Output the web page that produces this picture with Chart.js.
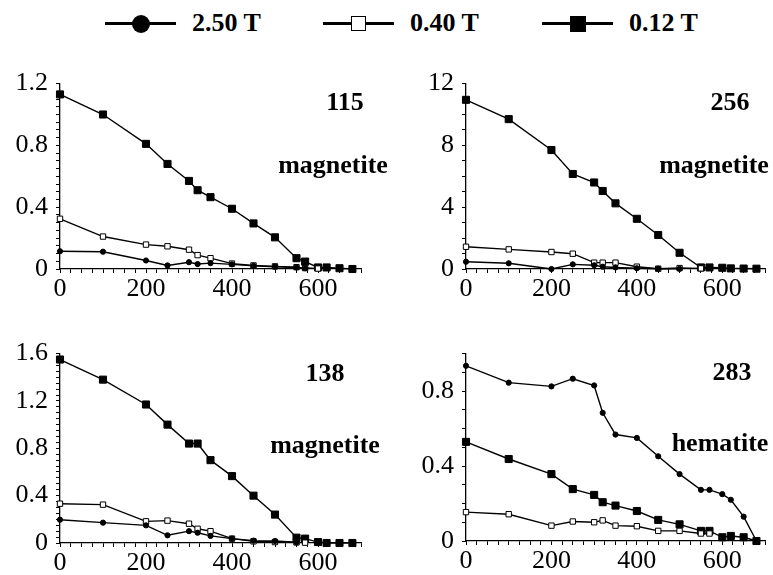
<!DOCTYPE html>
<html>
<head>
<meta charset="utf-8">
<script src="https://cdn.jsdelivr.net/npm/chart.js@4.4.1/dist/chart.umd.min.js"></script>
<style>
  body { margin: 0; background: #fff; }
  #page { position: relative; width: 773px; height: 575px; overflow: hidden;
          font-family: "Liberation Serif", "Times New Roman", serif; color: #000; }
  .panel { position: absolute; }
  .note { position: absolute; font-weight: bold; font-size: 26px; line-height: 1;
          transform: translate(-50%, -50%); white-space: nowrap; }
  .leg { position: absolute; top: 0; height: 46px; }
  .leg .ln { position: absolute; top: 22px; height: 3px; width: 71px; background: #000; }
  .leg .mk { position: absolute; background: #000; box-sizing: border-box; }
  .leg .tx { position: absolute; top: 23px; transform: translateY(-50%); font-weight: bold;
             font-size: 26px; line-height: 1; white-space: nowrap; }
</style>
</head>
<body>
<div id="page">
  <div class="panel" style="left:0;top:60px;width:400px;height:250px"><canvas id="c115"></canvas></div>
  <div class="panel" style="left:400px;top:60px;width:373px;height:250px"><canvas id="c256"></canvas></div>
  <div class="panel" style="left:0;top:330px;width:400px;height:245px"><canvas id="c138"></canvas></div>
  <div class="panel" style="left:400px;top:330px;width:373px;height:245px"><canvas id="c283"></canvas></div>

  <div class="note" style="left:345px;top:102px">115</div>
  <div class="note" style="left:333px;top:165px">magnetite</div>
  <div class="note" style="left:730px;top:102px">256</div>
  <div class="note" style="left:714px;top:165px">magnetite</div>
  <div class="note" style="left:325px;top:373px">138</div>
  <div class="note" style="left:325px;top:445px">magnetite</div>
  <div class="note" style="left:732px;top:372px">283</div>
  <div class="note" style="left:720px;top:443px">hematite</div>
</div>
<script>
// thermal demagnetisation steps (°C)
const temps = [0, 100, 200, 250, 300, 320, 350, 400, 450, 500, 550, 570, 600, 620, 650, 680];
const fieldLabels = ["2.50 T", "0.40 T", "0.12 T"];

// sample 115 (magnetite)
const s115_250 = [0.115, 0.112, 0.055, 0.023, 0.044, 0.032, 0.038, 0.03, 0.02, 0.015, 0.01, 0.005];
const s115_040 = [0.325, 0.21, 0.158, 0.147, 0.125, 0.09, 0.07, 0.035, 0.023, 0.017, 0.012, 0.006, 0.003];
const s115_012 = [1.13, 1.0, 0.81, 0.68, 0.57, 0.51, 0.465, 0.39, 0.295, 0.205, 0.07, 0.048, 0.01, 0.01, 0.005, 0];

// sample 256 (magnetite)
const s256_250 = [0.47, 0.37, 0.0, 0.3, 0.24, 0.15, 0.1, 0.05, 0.02, 0.01];
const s256_040 = [1.44, 1.27, 1.1, 0.99, 0.41, 0.41, 0.41, 0.15, 0.02, 0.06, 0.04];
const s256_012 = [10.95, 9.7, 7.7, 6.15, 5.6, 5.05, 4.25, 3.25, 2.2, 1.05, 0.1, 0.1, 0.08, 0.04, 0.03, 0.02];

// sample 138 (magnetite)
const s138_250 = [0.197, 0.172, 0.149, 0.065, 0.1, 0.087, 0.06, 0.037, 0.02, 0.017, 0.006];
const s138_040 = [0.332, 0.324, 0.183, 0.189, 0.163, 0.12, 0.1, 0.037, 0.014, 0.008, 0.005, 0.003];
const s138_012 = [1.55, 1.38, 1.17, 1.0, 0.84, 0.84, 0.7, 0.565, 0.4, 0.24, 0.045, 0.037, 0.008, 0, 0, 0];

// sample 283 (hematite)
const s283_250 = [0.935, 0.845, 0.825, 0.866, 0.83, 0.684, 0.568, 0.55, 0.452, 0.357, 0.273, 0.273, 0.25, 0.22, 0.13, 0];
const s283_040 = [0.154, 0.143, 0.082, 0.104, 0.1, 0.11, 0.082, 0.079, 0.054, 0.054, 0.04, 0.04];
const s283_012 = [0.529, 0.4375, 0.357, 0.277, 0.246, 0.207, 0.189, 0.16, 0.1125, 0.089, 0.054, 0.054, 0.02, 0.027, 0.02, 0];

const styles = [
  { pointStyle: "circle", pointRadius: 2.6, pointBackgroundColor: "#000" },
  { pointStyle: "rect", pointRadius: 3.8, pointBackgroundColor: "#fff" },
  { pointStyle: "rect", pointRadius: 5, pointBackgroundColor: "#000" },
];

const tickFont = { family: "'Liberation Serif', 'Times New Roman', serif", size: 26 };

function pts(vals) {
  return vals.map((v, i) => ({ x: temps[i], y: v }));
}

function fmt(v) {
  return String(Math.round(v * 100) / 100);
}

function panel(id, series, yMax, yStep, yMajor, opt) {
  const datasets = series.map((vals, i) => ({
    label: fieldLabels[i],
    data: pts(vals),
    borderColor: "#000",
    borderWidth: 1.4,
    pointBorderColor: "#000",
    pointBorderWidth: 1,
    clip: false,
    ...styles[i],
  }));
  return new Chart(document.getElementById(id), {
    type: "line",
    data: { datasets },
    options: {
      responsive: true,
      maintainAspectRatio: false,
      animation: false,
      layout: { padding: opt.pad },
      plugins: { legend: { display: false }, tooltip: { enabled: false } },
      scales: {
        x: {
          type: "linear",
          min: 0,
          max: 700,
          afterFit: (s) => { s.height = opt.xh; },
          border: { color: "#000", width: 1.3 },
          grid: { drawOnChartArea: false, tickLength: 4, color: "#000" },
          ticks: {
            stepSize: 25,
            autoSkip: false,
            maxRotation: 0,
            padding: 1,
            color: "#000",
            font: tickFont,
            callback: (v) => (v % 200 === 0 ? String(v) : ""),
          },
        },
        y: {
          min: 0,
          max: yMax,
          afterFit: (s) => { s.width = opt.yw; },
          border: { color: "#000", width: 1.3 },
          grid: { drawOnChartArea: false, tickLength: 4, color: "#000" },
          ticks: {
            stepSize: yStep,
            autoSkip: false,
            padding: 8,
            color: "#000",
            font: tickFont,
            callback: (v) => {
              const r = v / yMajor;
              return Math.abs(r - Math.round(r)) < 1e-6 ? fmt(v) : "";
            },
          },
        },
      },
    },
  });
}

panel("c115", [s115_250, s115_040, s115_012], 1.2, 0.05, 0.4,
  { pad: { top: 20, right: 39, bottom: 1, left: 0 }, yw: 60, xh: 40 });
panel("c256", [s256_250, s256_040, s256_012], 12, 1, 4,
  { pad: { top: 20, right: 8, bottom: 1, left: 0 }, yw: 66, xh: 40 });
panel("c138", [s138_250, s138_040, s138_012], 1.6, 0.05, 0.4,
  { pad: { top: 23, right: 39, bottom: 0, left: 0 }, yw: 60, xh: 32 });
panel("c283", [s283_250, s283_040, s283_012], 1.0, 0.1, 0.4,
  { pad: { top: 21, right: 8, bottom: 0, left: 0 }, yw: 66, xh: 34 });

// legend
const page = document.getElementById("page");
const legLeft = [105, 323, 542];
const marks = [
  { w: 18, h: 18, r: "50%", bg: "#000", bd: "none" },
  { w: 15, h: 15, r: "0", bg: "#fff", bd: "1.5px solid #000" },
  { w: 16, h: 16, r: "0", bg: "#000", bd: "none" },
];
fieldLabels.forEach((lab, i) => {
  const item = document.createElement("div");
  item.className = "leg";
  item.style.left = legLeft[i] + "px";
  const m = marks[i];
  item.innerHTML =
    `<div class="ln"></div>` +
    `<div class="mk" style="left:${35.5 - m.w / 2}px;top:${23.5 - m.h / 2}px;width:${m.w}px;height:${m.h}px;` +
    `border-radius:${m.r};background:${m.bg};border:${m.bd}"></div>` +
    `<div class="tx" style="left:87px">${lab}</div>`;
  page.appendChild(item);
});
</script>
</body>
</html>
